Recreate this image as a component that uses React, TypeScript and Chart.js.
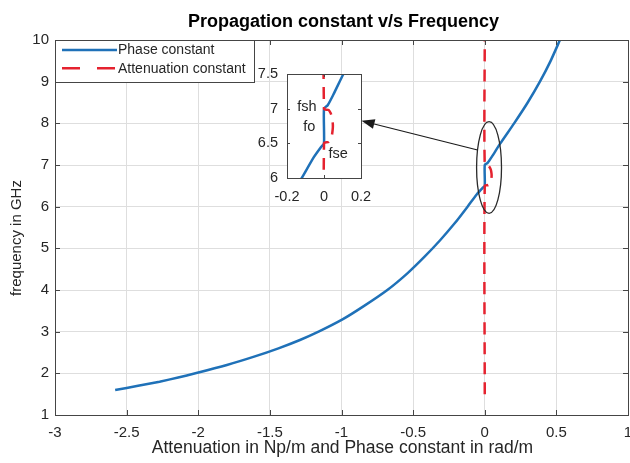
import React, { useEffect, useRef } from "react";
import { Chart, registerables } from "chart.js";

Chart.register(...registerables);

const FONT = '"Liberation Sans", Arial, Helvetica, sans-serif';
const INK = "#262626";
const FRAME = "#454545";
const GRID = "#dedede";
const BLUE = "#1f71b8";
const RED = "#e5222f";

// Phase constant (rad/m) against frequency (GHz)
const phaseFreq = [1.6, 1.7, 1.8, 1.9, 2.0, 2.2, 2.4, 2.6, 2.8, 3.0, 3.3, 3.6, 4.0, 4.4, 4.8, 5.2, 5.6, 6.0, 6.3, 6.45, 6.5, 7.0, 7.05, 7.2, 7.5, 8.0, 8.5, 9.0, 9.5, 10.0];
const phaseBeta = [-2.58, -2.42, -2.27, -2.14, -2.02, -1.8, -1.61, -1.44, -1.29, -1.16, -0.99, -0.85, -0.68, -0.54, -0.42, -0.31, -0.21, -0.12, -0.055, -0.015, 0, 0, 0.02, 0.05, 0.105, 0.205, 0.3, 0.385, 0.46, 0.525];

// Attenuation constant (Np/m) against frequency (GHz); non-zero only inside the stop band
const attenFreq = [1.5, 6.5, 6.52, 6.56, 6.62, 6.7, 6.75, 6.8, 6.88, 6.94, 6.98, 7.0, 10.0];
const attenAlpha = [0, 0, 0.025, 0.035, 0.043, 0.047, 0.048, 0.047, 0.043, 0.035, 0.025, 0, 0];

const seriesLabels = ["Phase constant", "Attenuation constant"];

const chartTitle = "Propagation constant v/s Frequency";
const xAxisLabel = "Attenuation in Np/m and Phase constant in rad/m";
const yAxisLabel = "frequency in GHz";

// Axis ranges of the full view
const xMin = -3, xMax = 1, xStep = 0.5;
const yMin = 1, yMax = 10, yStep = 1;

// Axis ranges of the zoomed stop-band view
const zxMin = -0.2, zxMax = 0.2, zxStep = 0.2;
const zyMin = 6, zyMax = 7.5, zyStep = 0.5;

// Band-edge notes in the zoomed view (data units)
const bandLabels = ["fsh", "fo", "fse"];
const bandLabelX = [-0.092, -0.079, 0.076];
const bandLabelY = [7.03, 6.74, 6.34];

// Ellipse around the stop band and the pointer to the zoomed view (data units)
const ellipseCenter = [0.03, 6.94];
const ellipseRadius = [0.087, 1.1];
const pointerFrom = [-0.05, 7.36];
const pointerTo = [-0.86, 8.06];

const tickText = (v: number | string) => String(Math.round(Number(v) * 100) / 100);

const toPoints = (xs: number[], ys: number[]) => xs.map((x, i) => ({ x, y: ys[i] }));

function makeDatasets(): any[] {
  return [
    {
      label: seriesLabels[0],
      data: toPoints(phaseBeta, phaseFreq),
      borderColor: BLUE,
      backgroundColor: BLUE,
      borderWidth: 2.5,
      showLine: true,
      pointRadius: 0,
      tension: 0.2,
      order: 1,
    },
    {
      label: seriesLabels[1],
      data: toPoints(attenAlpha, attenFreq),
      borderColor: RED,
      backgroundColor: RED,
      borderWidth: 2.5,
      borderDash: [12, 8],
      showLine: true,
      pointRadius: 0,
      tension: 0.25,
      order: 0,
    },
  ];
}

function drawFrame(ctx: CanvasRenderingContext2D, chart: any, len: number) {
  const a = chart.chartArea;
  const { x, y } = chart.scales;
  ctx.save();
  ctx.strokeStyle = FRAME;
  ctx.lineWidth = 1;
  ctx.beginPath();
  for (const t of x.ticks) {
    const px = Math.round(x.getPixelForValue(t.value)) + 0.5;
    ctx.moveTo(px, a.bottom);
    ctx.lineTo(px, a.bottom - len);
    ctx.moveTo(px, a.top);
    ctx.lineTo(px, a.top + len);
  }
  for (const t of y.ticks) {
    const py = Math.round(y.getPixelForValue(t.value)) + 0.5;
    ctx.moveTo(a.left, py);
    ctx.lineTo(a.left + len, py);
    ctx.moveTo(a.right, py);
    ctx.lineTo(a.right - len, py);
  }
  ctx.stroke();
  ctx.strokeRect(Math.round(a.left) + 0.5, Math.round(a.top) + 0.5, Math.round(a.right - a.left), Math.round(a.bottom - a.top));
  ctx.restore();
}

const mainDecor = {
  id: "mainDecor",
  beforeDraw(chart: any) {
    const ctx = chart.ctx as CanvasRenderingContext2D;
    ctx.save();
    ctx.fillStyle = "#ffffff";
    ctx.fillRect(0, 0, chart.width, chart.height);
    ctx.restore();
  },
  afterDraw(chart: any) {
    const ctx = chart.ctx as CanvasRenderingContext2D;
    const a = chart.chartArea;
    const { x, y } = chart.scales;
    drawFrame(ctx, chart, 5);

    ctx.save();
    // stop-band ellipse
    const cx = x.getPixelForValue(ellipseCenter[0]);
    const cy = y.getPixelForValue(ellipseCenter[1]);
    const rx = Math.abs(x.getPixelForValue(ellipseCenter[0] + ellipseRadius[0]) - cx);
    const ry = Math.abs(y.getPixelForValue(ellipseCenter[1] + ellipseRadius[1]) - cy);
    ctx.strokeStyle = "#2a2a2a";
    ctx.lineWidth = 1.3;
    ctx.beginPath();
    ctx.ellipse(cx, cy, rx, ry, 0, 0, Math.PI * 2);
    ctx.stroke();

    // pointer arrow
    const x0 = x.getPixelForValue(pointerFrom[0]);
    const y0 = y.getPixelForValue(pointerFrom[1]);
    const x1 = x.getPixelForValue(pointerTo[0]);
    const y1 = y.getPixelForValue(pointerTo[1]);
    const ang = Math.atan2(y1 - y0, x1 - x0);
    const headLen = 13, headHalf = 5;
    const bx = x1 - headLen * Math.cos(ang);
    const by = y1 - headLen * Math.sin(ang);
    ctx.strokeStyle = "#1a1a1a";
    ctx.lineWidth = 1.2;
    ctx.beginPath();
    ctx.moveTo(x0, y0);
    ctx.lineTo(bx, by);
    ctx.stroke();
    ctx.fillStyle = "#1a1a1a";
    ctx.beginPath();
    ctx.moveTo(x1, y1);
    ctx.lineTo(bx + headHalf * Math.sin(ang), by - headHalf * Math.cos(ang));
    ctx.lineTo(bx - headHalf * Math.sin(ang), by + headHalf * Math.cos(ang));
    ctx.closePath();
    ctx.fill();

    // legend
    const lw = 199, lh = 42;
    ctx.fillStyle = "#ffffff";
    ctx.fillRect(a.left, a.top, lw, lh);
    ctx.strokeStyle = FRAME;
    ctx.lineWidth = 1;
    ctx.strokeRect(Math.round(a.left) + 0.5, Math.round(a.top) + 0.5, lw, lh);
    chart.data.datasets.forEach((ds: any, i: number) => {
      const ly = a.top + 10 + i * 18.3;
      ctx.save();
      ctx.strokeStyle = ds.borderColor;
      ctx.lineWidth = 2.5;
      ctx.setLineDash(ds.borderDash ? [18, 17] : []);
      ctx.beginPath();
      ctx.moveTo(a.left + 7, ly);
      ctx.lineTo(a.left + 62, ly);
      ctx.stroke();
      ctx.restore();
      ctx.fillStyle = INK;
      ctx.font = `14px ${FONT}`;
      ctx.textAlign = "left";
      ctx.textBaseline = "middle";
      ctx.fillText(ds.label, a.left + 63, ly + 0.5);
    });

    // titles
    const midX = (a.left + a.right) / 2;
    ctx.fillStyle = "#000000";
    ctx.font = `bold 18px ${FONT}`;
    ctx.textAlign = "center";
    ctx.textBaseline = "middle";
    ctx.fillText(chartTitle, midX + 2, 22);

    ctx.fillStyle = INK;
    ctx.font = `17.5px ${FONT}`;
    ctx.fillText(xAxisLabel, midX + 1, 448);

    ctx.save();
    ctx.translate(17, 238);
    ctx.rotate(-Math.PI / 2);
    ctx.font = `15px ${FONT}`;
    ctx.fillText(yAxisLabel, 0, 0);
    ctx.restore();

    ctx.restore();
  },
};

const insetDecor = {
  id: "insetDecor",
  beforeDraw(chart: any) {
    const ctx = chart.ctx as CanvasRenderingContext2D;
    const a = chart.chartArea;
    ctx.save();
    ctx.fillStyle = "#ffffff";
    ctx.fillRect(a.left, a.top, a.right - a.left, a.bottom - a.top);
    ctx.restore();
  },
  afterDraw(chart: any) {
    const ctx = chart.ctx as CanvasRenderingContext2D;
    const { x, y } = chart.scales;
    drawFrame(ctx, chart, 3);
    ctx.save();
    ctx.fillStyle = INK;
    ctx.font = `14.5px ${FONT}`;
    ctx.textAlign = "center";
    ctx.textBaseline = "middle";
    bandLabels.forEach((t, i) => {
      ctx.fillText(t, x.getPixelForValue(bandLabelX[i]), y.getPixelForValue(bandLabelY[i]));
    });
    ctx.restore();
  },
};

function scaleOpts(min: number, max: number, step: number, fontSize: number, pad: number, fit: (s: any) => void, grid: boolean) {
  return {
    type: "linear" as const,
    min,
    max,
    afterFit: fit,
    ticks: {
      stepSize: step,
      autoSkip: false,
      maxRotation: 0,
      minRotation: 0,
      padding: pad,
      color: INK,
      font: { family: FONT, size: fontSize },
      callback: tickText,
    },
    grid: { display: grid, color: GRID, lineWidth: 1, drawTicks: false },
    border: { display: false },
  };
}

export default function App() {
  const mainRef = useRef<HTMLCanvasElement>(null);
  const insetRef = useRef<HTMLCanvasElement>(null);

  useEffect(() => {
    const main = new Chart(mainRef.current as HTMLCanvasElement, {
      type: "scatter",
      data: { datasets: makeDatasets() },
      options: {
        animation: false,
        responsive: false,
        devicePixelRatio: 1,
        events: [],
        layout: { padding: { left: 0, top: 40, right: 2, bottom: 0 } },
        plugins: { legend: { display: false }, tooltip: { enabled: false }, title: { display: false } },
        scales: {
          x: scaleOpts(xMin, xMax, xStep, 15, 9, (s: any) => { s.height = 48; s.paddingLeft = 0; s.paddingRight = 0; }, true),
          y: scaleOpts(yMin, yMax, yStep, 15, 6, (s: any) => { s.width = 55; s.paddingTop = 0; s.paddingBottom = 0; }, true),
        },
      } as any,
      plugins: [mainDecor],
    });

    const inset = new Chart(insetRef.current as HTMLCanvasElement, {
      type: "scatter",
      data: { datasets: makeDatasets() },
      options: {
        animation: false,
        responsive: false,
        devicePixelRatio: 1,
        events: [],
        layout: { padding: { left: 0, top: 10, right: 14, bottom: 0 } },
        plugins: { legend: { display: false }, tooltip: { enabled: false }, title: { display: false } },
        scales: {
          x: scaleOpts(zxMin, zxMax, zxStep, 14.5, 10, (s: any) => { s.height = 26; s.paddingLeft = 0; s.paddingRight = 0; }, false),
          y: scaleOpts(zyMin, zyMax, zyStep, 14.5, 9, (s: any) => { s.width = 37; s.paddingTop = 0; s.paddingBottom = 0; }, false),
        },
      } as any,
      plugins: [insetDecor],
    });

    return () => {
      main.destroy();
      inset.destroy();
    };
  }, []);

  return (
    <div style={{ position: "fixed", left: 0, top: 0, width: 630, height: 463, background: "#ffffff" }}>
      <canvas ref={mainRef} width={630} height={463} style={{ position: "absolute", left: 0, top: 0, width: 630, height: 463 }} />
      <canvas ref={insetRef} width={125} height={140} style={{ position: "absolute", left: 250, top: 64, width: 125, height: 140 }} />
    </div>
  );
}
